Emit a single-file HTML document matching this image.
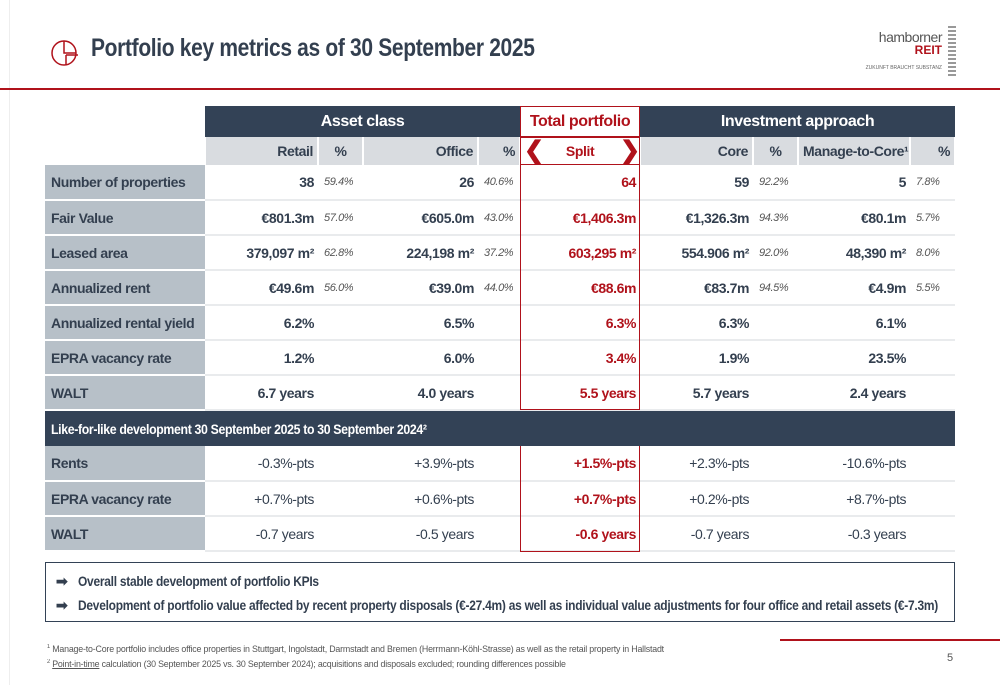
<!DOCTYPE html>
<html><head><meta charset="utf-8"><style>
*{margin:0;padding:0;box-sizing:border-box}
body{width:1000px;height:685px;background:#fff;position:relative;overflow:hidden;font-family:"Liberation Sans",sans-serif;color:#333f4f}
.abs{position:absolute}
table{position:absolute;left:45px;top:106px;border-collapse:collapse;table-layout:fixed;width:910px}
td{font-size:14px;padding:0 4px;white-space:nowrap;letter-spacing:-0.4px}
.h1 td{height:31px;background:#334256;color:#fff;font-weight:bold;font-size:16px;text-align:center}
.h2 td{height:28px;background:#d9dce0;font-weight:bold;text-align:right;border-right:2px solid #fff}
.r td{height:35px;border-bottom:2px solid #e9ebed;text-align:right;font-weight:bold}
.r td.l{background:#b7c0c8;text-align:left;padding-left:6px;border-bottom:2px solid #fff;font-weight:bold}
.r td.p{font-style:italic;font-weight:normal;color:#555;font-size:11px;text-align:left;padding-left:6px}
.r td.t{color:#b0121b}
.n td{font-weight:normal}
.n td.t,.n td.l{font-weight:bold}
.lfl td{height:36px;background:#334256;color:#fff;font-weight:bold;font-size:14px;padding-left:6px}
.sq{display:inline-block;transform-origin:left center;white-space:nowrap}
</style></head><body>
<div class="abs" style="left:9px;top:0;width:1px;height:685px;background:#eee"></div>
<svg class="abs" style="left:50px;top:36px" width="30" height="32" viewBox="0 0 30 32"><circle cx="14" cy="17" r="12" fill="none" stroke="#b0121b" stroke-width="1.5"/><path d="M14 5 V17 H26 M16 19 H28 M16 19 V29" fill="none" stroke="#b0121b" stroke-width="1.5"/></svg>
<div class="abs" style="left:91px;top:34px;font-size:25px;font-weight:bold;letter-spacing:-0.4px;color:#333f4f"><span class="sq" style="transform:scaleX(0.84)">Portfolio key metrics as of 30 September 2025</span></div>
<div class="abs" style="left:856px;top:30px;width:100px;text-align:right;line-height:1">
<div style="font-size:14px;color:#555;letter-spacing:-0.5px;padding-right:14px">hamborner</div>
<div style="font-size:12px;font-weight:bold;color:#b0121b;padding-right:14px">REIT</div>
<div style="font-size:5px;color:#666;margin-top:10px;padding-right:14px;white-space:nowrap">ZUKUNFT BRAUCHT SUBSTANZ</div>
<div class="abs" style="right:0;top:-4px;width:8px;height:50px;background:repeating-linear-gradient(#999 0 2px,#fff 2px 4px)"></div>
</div>
<div class="abs" style="left:0;top:88px;width:1000px;height:2px;background:#b0121b"></div>
<table>
<colgroup><col style="width:160px"><col style="width:113px"><col style="width:45px"><col style="width:115px"><col style="width:42px"><col style="width:120px"><col style="width:113px"><col style="width:45px"><col style="width:112px"><col style="width:45px"></colgroup>
<tr class="h1"><td style="background:#fff"></td><td colspan="4">Asset class</td><td style="background:#fff;color:#b0121b">Total portfolio</td><td colspan="4">Investment approach</td></tr>
<tr class="h2"><td style="background:#fff"></td><td>Retail</td><td style="text-align:center">%</td><td>Office</td><td>%</td><td style="background:#fff;color:#b0121b;text-align:center">Split</td><td>Core</td><td style="text-align:center">%</td><td>Manage-to-Core¹</td><td>%</td></tr>
<tr class="r"><td class="l">Number of properties</td><td>38</td><td class="p">59.4%</td><td>26</td><td class="p">40.6%</td><td class="t">64</td><td>59</td><td class="p">92.2%</td><td>5</td><td class="p">7.8%</td></tr>
<tr class="r"><td class="l">Fair Value</td><td>€801.3m</td><td class="p">57.0%</td><td>€605.0m</td><td class="p">43.0%</td><td class="t">€1,406.3m</td><td>€1,326.3m</td><td class="p">94.3%</td><td>€80.1m</td><td class="p">5.7%</td></tr>
<tr class="r"><td class="l">Leased area</td><td>379,097 m²</td><td class="p">62.8%</td><td>224,198 m²</td><td class="p">37.2%</td><td class="t">603,295 m²</td><td>554.906 m²</td><td class="p">92.0%</td><td>48,390 m²</td><td class="p">8.0%</td></tr>
<tr class="r"><td class="l">Annualized rent</td><td>€49.6m</td><td class="p">56.0%</td><td>€39.0m</td><td class="p">44.0%</td><td class="t">€88.6m</td><td>€83.7m</td><td class="p">94.5%</td><td>€4.9m</td><td class="p">5.5%</td></tr>
<tr class="r"><td class="l">Annualized rental yield</td><td>6.2%</td><td></td><td>6.5%</td><td></td><td class="t">6.3%</td><td>6.3%</td><td></td><td>6.1%</td><td></td></tr>
<tr class="r"><td class="l">EPRA vacancy rate</td><td>1.2%</td><td></td><td>6.0%</td><td></td><td class="t">3.4%</td><td>1.9%</td><td></td><td>23.5%</td><td></td></tr>
<tr class="r"><td class="l">WALT</td><td>6.7 years</td><td></td><td>4.0 years</td><td></td><td class="t">5.5 years</td><td>5.7 years</td><td></td><td>2.4 years</td><td></td></tr>
<tr class="lfl"><td colspan="10"><span class="sq" style="transform:scaleX(0.88)">Like-for-like development 30 September 2025 to 30 September 2024²</span></td></tr>
<tr class="r n"><td class="l">Rents</td><td>-0.3%-pts</td><td></td><td>+3.9%-pts</td><td></td><td class="t">+1.5%-pts</td><td>+2.3%-pts</td><td></td><td>-10.6%-pts</td><td></td></tr>
<tr class="r n"><td class="l">EPRA vacancy rate</td><td>+0.7%-pts</td><td></td><td>+0.6%-pts</td><td></td><td class="t">+0.7%-pts</td><td>+0.2%-pts</td><td></td><td>+8.7%-pts</td><td></td></tr>
<tr class="r n"><td class="l">WALT</td><td>-0.7 years</td><td></td><td>-0.5 years</td><td></td><td class="t">-0.6 years</td><td>-0.7 years</td><td></td><td>-0.3 years</td><td></td></tr>
</table>
<div class="abs" style="left:520px;top:106px;width:120px;height:31px;border:1.5px solid #b0121b"></div>
<div class="abs" style="left:520px;top:137px;width:120px;height:28px;border:1.5px solid #b0121b"></div>
<div class="abs" style="left:524px;top:136px;color:#b0121b;font-size:24px;font-weight:bold">❮</div>
<div class="abs" style="left:620px;top:136px;color:#b0121b;font-size:24px;font-weight:bold">❯</div>
<div class="abs" style="left:520px;top:165px;width:120px;height:245px;border:1.5px solid #b0121b;border-top:none"></div>
<div class="abs" style="left:520px;top:446px;width:120px;height:106px;border:1.5px solid #b0121b;border-top:none"></div>
<div class="abs" style="left:45px;top:562px;width:910px;height:60px;border:1px solid #334256;font-size:14px;font-weight:bold;letter-spacing:-0.3px;padding:6px 0 0 10px;line-height:24px">
<div style="white-space:nowrap">➡&nbsp;&nbsp;&nbsp;<span class="sq" style="transform:scaleX(0.855)">Overall stable development of portfolio KPIs</span></div>
<div style="white-space:nowrap">➡&nbsp;&nbsp;&nbsp;<span class="sq" style="transform:scaleX(0.855)">Development of portfolio value affected by recent property disposals (€-27.4m) as well as individual value adjustments for four office and retail assets (€-7.3m)</span></div>
</div>
<div class="abs" style="left:780px;top:639px;width:220px;height:2px;background:#b0121b"></div>
<div class="abs" style="left:47px;top:641px;font-size:9.5px;color:#555;line-height:12px;letter-spacing:-0.2px;white-space:nowrap">
<div><span class="sq" style="transform:scaleX(0.93)"><sup style="font-size:6px">1</sup> Manage-to-Core portfolio includes office properties in Stuttgart, Ingolstadt, Darmstadt and Bremen (Herrmann-Köhl-Strasse) as well as the retail property in Hallstadt</span></div>
<div><span class="sq" style="transform:scaleX(0.93)"><sup style="font-size:6px">2</sup> <u>Point-in-time</u> calculation (30 September 2025 vs. 30 September 2024); acquisitions and disposals excluded; rounding differences possible</span></div>
</div>
<div class="abs" style="left:947px;top:652px;font-size:11px;color:#555">5</div>
</body></html>
